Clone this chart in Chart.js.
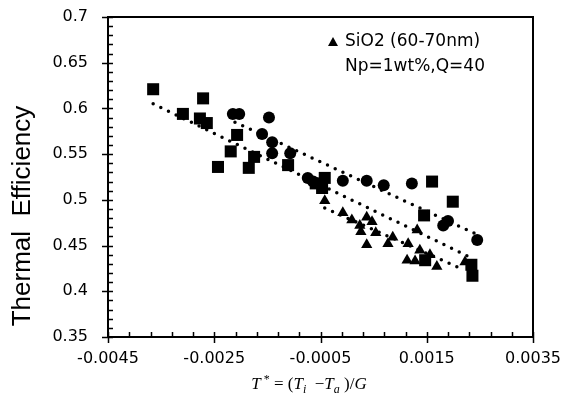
<!DOCTYPE html>
<html>
<head>
<meta charset="utf-8">
<script src="https://cdn.jsdelivr.net/npm/chart.js@4.4.0/dist/chart.umd.min.js"></script>
<style>
  html, body { margin: 0; padding: 0; background: #fff; }
</style>
</head>
<body>
<canvas id="effChart" width="563" height="403"></canvas>
<script>
// --- data ---
const xTicks = [-0.0045, -0.0025, -0.0005, 0.0015, 0.0035];
const yTicks = [0.35, 0.4, 0.45, 0.5, 0.55, 0.6, 0.65, 0.7];

// squares
const squareX = [-0.00365, -0.00309, -0.00271, -0.00277, -0.00264, -0.00207, -0.00219, -0.00243, -0.00185, -0.00175,
                 -0.00111, -0.00042, -0.00047, -0.00059, 0.00160, 0.00199, 0.00145, 0.00147, 0.00234, 0.00236];
const squareY = [0.621, 0.594, 0.611, 0.589, 0.584, 0.571, 0.553, 0.536, 0.535, 0.547,
                 0.538, 0.524, 0.513, 0.518, 0.520, 0.498, 0.483, 0.434, 0.429, 0.417];

// circles
const circleX = [-0.00215, -0.00203, -0.00147, -0.00160, -0.00141, -0.00141, -0.00107, -0.00074, -0.00064,
                 -0.00008, 0.00037, 0.00069, 0.00122, 0.00190, 0.00181, 0.00245];
const circleY = [0.594, 0.594, 0.590, 0.572, 0.563, 0.551, 0.551, 0.524, 0.520,
                 0.521, 0.521, 0.516, 0.518, 0.477, 0.472, 0.456];

// triangles - SiO2 (60-70nm)
const triX = [-0.00042, -0.00008, 0.00009, 0.00024, 0.00037, 0.00047, 0.00026, 0.00054, 0.00037, 0.00077,
              0.00086, 0.00115, 0.00132, 0.00137, 0.00113, 0.00128, 0.00156, 0.00169, 0.00222];
const triY = [0.499, 0.486, 0.478, 0.472, 0.481, 0.476, 0.465, 0.464, 0.451, 0.452,
              0.459, 0.452, 0.467, 0.445, 0.434, 0.433, 0.440, 0.427, 0.432];

// dotted trend lines (end points)
const squareTrendX = [-0.00365, 0.00236];
const squareTrendY = [0.605, 0.436];
const circleTrendX = [-0.00211, 0.00245];
const circleTrendY = [0.585, 0.462];
const triTrendX = [-0.00042, 0.00218];
const triTrendY = [0.491, 0.424];

function pts(xs, ys) {
    return xs.map((x, i) => ({ x: x, y: ys[i] }));
}

function trend(xs, ys) {
    return {
        type: 'line',
        data: pts(xs, ys),
        borderColor: '#000',
        borderWidth: 3.5,
        borderDash: [0, 8.5],
        borderCapStyle: 'round',
        pointRadius: 0,
        fill: false,
        order: 2
    };
}

function marker(xs, ys, style, r) {
    return {
        type: 'scatter',
        data: pts(xs, ys),
        pointStyle: style,
        pointRadius: r,
        pointBackgroundColor: '#000',
        pointBorderColor: '#000',
        pointBorderWidth: 0,
        order: 1
    };
}

// frame, tick marks, legend text and axis titles
const decorPlugin = {
    id: 'decor',
    afterDraw(chart) {
        const ctx = chart.ctx;
        const a = chart.chartArea;
        const xs = chart.scales.x, ys = chart.scales.y;
        ctx.save();
        ctx.strokeStyle = '#000';
        ctx.lineWidth = 2;
        ctx.strokeRect(a.left, a.top, a.right - a.left, a.bottom - a.top);

        ctx.lineWidth = 1.5;
        ctx.beginPath();
        // y ticks
        for (let i = 0; i <= 35; i++) {
            const v = 0.35 + i * 0.01;
            const py = Math.round(ys.getPixelForValue(v)) + 0.5;
            if (i % 5 === 0) { ctx.moveTo(a.left - 6, py); ctx.lineTo(a.left + 5, py); }
            else { ctx.moveTo(a.left, py); ctx.lineTo(a.left + 5, py); }
        }
        // x ticks
        for (let i = 0; i <= 20; i++) {
            const v = -0.0045 + i * 0.0004;
            const px = Math.round(xs.getPixelForValue(v)) + 0.5;
            if (i % 5 === 0) { ctx.moveTo(px, a.bottom + 6); ctx.lineTo(px, a.bottom - 5); }
            else { ctx.moveTo(px, a.bottom); ctx.lineTo(px, a.bottom - 5); }
        }
        ctx.stroke();

        // legend
        ctx.fillStyle = '#000';
        ctx.beginPath();
        ctx.moveTo(333, 37);
        ctx.lineTo(338, 46);
        ctx.lineTo(328, 46);
        ctx.closePath();
        ctx.fill();
        ctx.font = '17px "DejaVu Sans"';
        ctx.textBaseline = 'middle';
        ctx.textAlign = 'left';
        ctx.fillText('SiO2 (60-70nm)', 345, 42);
        ctx.fillText('Np=1wt%,Q=40', 345, 67);

        // y title
        ctx.save();
        ctx.translate(23, 216);
        ctx.rotate(-Math.PI / 2);
        ctx.textAlign = 'center';
        ctx.font = '26px "Liberation Sans"';
        ctx.fillText('Thermal  Efficiency', 0, 0);
        ctx.restore();

        // x title: T* = (Ti - Ta)/G
        const big = '17px "Liberation Serif"', bigI = 'italic 17px "Liberation Serif"';
        const small = '12px "Liberation Serif"', smallI = 'italic 12px "Liberation Serif"';
        const parts = [
            [bigI, 'T', 0], [small, ' *', -6], [big, ' = (', 0], [bigI, 'T', 0], [smallI, 'i', 4],
            [big, '  \u2212', 0], [bigI, 'T', 0], [smallI, 'a', 4], [big, ' )/', 0], [bigI, 'G', 0]
        ];
        let w = 0;
        parts.forEach(p => { ctx.font = p[0]; w += ctx.measureText(p[1]).width; });
        let cx = 309 - w / 2;
        ctx.textAlign = 'left';
        ctx.textBaseline = 'alphabetic';
        parts.forEach(p => {
            ctx.font = p[0];
            ctx.fillText(p[1], cx, 389 + p[2]);
            cx += ctx.measureText(p[1]).width;
        });
        ctx.restore();
    }
};

const ctx = document.getElementById('effChart').getContext('2d');
new Chart(ctx, {
    data: {
        datasets: [
            marker(squareX, squareY, 'rect', 8.5),
            marker(circleX, circleY, 'circle', 6),
            marker(triX, triY, 'triangle', 6.5),
            trend(squareTrendX, squareTrendY),
            trend(circleTrendX, circleTrendY),
            trend(triTrendX, triTrendY)
        ]
    },
    options: {
        responsive: false,
        animation: false,
        layout: { padding: { top: 17, right: 30, left: 0, bottom: 0 } },
        plugins: {
            legend: { display: false },
            tooltip: { enabled: false }
        },
        scales: {
            x: {
                type: 'linear',
                min: -0.0045,
                max: 0.0035,
                afterBuildTicks: s => { s.ticks = xTicks.map(v => ({ value: v })); },
                afterFit: s => { s.height = 66; s.paddingLeft = 0; s.paddingRight = 0; },
                grid: { display: false, drawTicks: false },
                border: { display: false },
                ticks: {
                    padding: 12,
                    color: '#000',
                    maxRotation: 0,
                    font: { family: 'DejaVu Sans', size: 16 },
                    callback: v => v.toFixed(4)
                }
            },
            y: {
                type: 'linear',
                min: 0.35,
                max: 0.7,
                afterBuildTicks: s => { s.ticks = yTicks.map(v => ({ value: v })); },
                afterFit: s => { s.width = 108; s.paddingTop = 0; s.paddingBottom = 0; },
                grid: { display: false, drawTicks: false },
                border: { display: false },
                ticks: {
                    padding: 20,
                    color: '#000',
                    font: { family: 'DejaVu Sans', size: 16 },
                    callback: v => String(+v.toFixed(2))
                }
            }
        }
    },
    plugins: [decorPlugin]
});
</script>
</body>
</html>
